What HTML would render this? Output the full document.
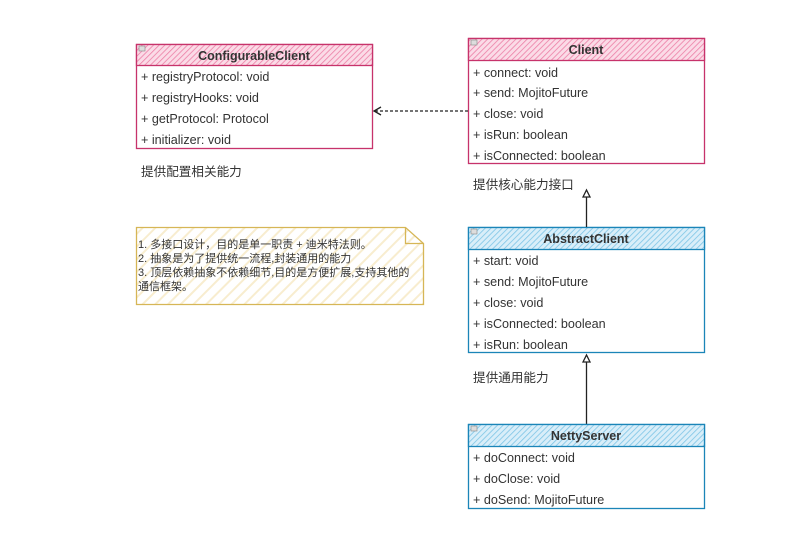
<!DOCTYPE html>
<html><head><meta charset="utf-8"><style>
html,body{margin:0;padding:0;background:#fff;width:799px;height:545px;overflow:hidden}
svg text{font-family:"Liberation Sans","Noto Sans CJK SC",sans-serif}
</style></head><body>
<svg width="799" height="545" viewBox="0 0 799 545" xmlns="http://www.w3.org/2000/svg">
<defs>
<pattern id="hp" width="4" height="4" patternUnits="userSpaceOnUse" patternTransform="rotate(45)">
<rect width="4" height="4" fill="#fbdbe7"/><line x1="0" y1="0" x2="0" y2="4" stroke="#ec7fa6" stroke-width="1.6"/></pattern>
<pattern id="hb" width="4" height="4" patternUnits="userSpaceOnUse" patternTransform="rotate(45)">
<rect width="4" height="4" fill="#d9eef9"/><line x1="0" y1="0" x2="0" y2="4" stroke="#7dc4e6" stroke-width="1.6"/></pattern>
<pattern id="hy" width="9" height="9" patternUnits="userSpaceOnUse" patternTransform="rotate(45)">
<rect width="9" height="9" fill="#fff"/><line x1="0" y1="0" x2="0" y2="9" stroke="#f8edcf" stroke-width="4"/></pattern>
</defs>

<!-- ConfigurableClient -->
<rect x="136.5" y="44.5" width="236" height="104" fill="#fff" stroke="#c7336b" stroke-width="1.3"/>
<rect x="136.5" y="44.5" width="236" height="21" fill="url(#hp)" stroke="#c7336b" stroke-width="1.3"/>
<rect x="139" y="46" width="6" height="5" fill="#ddd" stroke="#888" stroke-width="0.6"/>
<text x="254" y="60" text-anchor="middle" font-size="12.5" font-weight="bold" fill="#333">ConfigurableClient</text>
<g font-size="12.6" fill="#333">
<text x="141" y="81">+ registryProtocol: void</text>
<text x="141" y="102">+ registryHooks: void</text>
<text x="141" y="123">+ getProtocol: Protocol</text>
<text x="141" y="144">+ initializer: void</text>
</g>
<text x="141" y="176" font-size="12.6" fill="#333">提供配置相关能力</text>

<!-- Client -->
<rect x="468.5" y="38.5" width="236" height="125" fill="#fff" stroke="#c7336b" stroke-width="1.3"/>
<rect x="468.5" y="38.5" width="236" height="22" fill="url(#hp)" stroke="#c7336b" stroke-width="1.3"/>
<rect x="471" y="40" width="6" height="5" fill="#ddd" stroke="#888" stroke-width="0.6"/>
<text x="586" y="54" text-anchor="middle" font-size="12.5" font-weight="bold" fill="#333">Client</text>
<g font-size="12.6" fill="#333">
<text x="473" y="77">+ connect: void</text>
<text x="473" y="97">+ send: MojitoFuture</text>
<text x="473" y="118">+ close: void</text>
<text x="473" y="139">+ isRun: boolean</text>
<text x="473" y="160">+ isConnected: boolean</text>
</g>
<text x="473" y="189" font-size="12.6" fill="#333">提供核心能力接口</text>

<!-- dashed arrow -->
<line x1="468" y1="111" x2="375" y2="111" stroke="#222" stroke-width="1.3" stroke-dasharray="3,2"/>
<path d="M381 107 L374 111 L381 115" fill="none" stroke="#222" stroke-width="1.3"/>

<!-- Note -->
<path d="M136.5 227.5 H405.5 L423.5 243.5 V304.5 H136.5 Z" fill="url(#hy)" stroke="#d6b656" stroke-width="1.3"/>
<path d="M405.5 227.5 V243.5 H423.5" fill="none" stroke="#d6b656" stroke-width="1.3"/>
<g font-size="11" fill="#333">
<text x="138" y="248">1. 多接口设计，目的是单一职责 + 迪米特法则。</text>
<text x="138" y="262">2. 抽象是为了提供统一流程,封装通用的能力</text>
<text x="138" y="276">3. 顶层依赖抽象不依赖细节,目的是方便扩展,支持其他的</text>
<text x="138" y="290">通信框架。</text>
</g>

<!-- AbstractClient -->
<rect x="468.5" y="227.5" width="236" height="125" fill="#fff" stroke="#1b85b8" stroke-width="1.3"/>
<rect x="468.5" y="227.5" width="236" height="22" fill="url(#hb)" stroke="#1b85b8" stroke-width="1.3"/>
<rect x="471" y="229" width="6" height="5" fill="#ddd" stroke="#888" stroke-width="0.6"/>
<text x="586" y="243" text-anchor="middle" font-size="12.5" font-weight="bold" fill="#333">AbstractClient</text>
<g font-size="12.6" fill="#333">
<text x="473" y="265">+ start: void</text>
<text x="473" y="286">+ send: MojitoFuture</text>
<text x="473" y="307">+ close: void</text>
<text x="473" y="328">+ isConnected: boolean</text>
<text x="473" y="349">+ isRun: boolean</text>
</g>
<text x="473" y="382" font-size="12.6" fill="#333">提供通用能力</text>

<!-- arrows -->
<line x1="586.5" y1="227" x2="586.5" y2="192" stroke="#222" stroke-width="1.3"/>
<path d="M583 197 L586.5 190 L590 197 Z" fill="#fff" stroke="#222" stroke-width="1.3"/>
<line x1="586.5" y1="424" x2="586.5" y2="357" stroke="#222" stroke-width="1.3"/>
<path d="M583 362 L586.5 355 L590 362 Z" fill="#fff" stroke="#222" stroke-width="1.3"/>

<!-- NettyServer -->
<rect x="468.5" y="424.5" width="236" height="84" fill="#fff" stroke="#1b85b8" stroke-width="1.3"/>
<rect x="468.5" y="424.5" width="236" height="22" fill="url(#hb)" stroke="#1b85b8" stroke-width="1.3"/>
<rect x="471" y="426" width="6" height="5" fill="#ddd" stroke="#888" stroke-width="0.6"/>
<text x="586" y="440" text-anchor="middle" font-size="12.5" font-weight="bold" fill="#333">NettyServer</text>
<g font-size="12.6" fill="#333">
<text x="473" y="462">+ doConnect: void</text>
<text x="473" y="483">+ doClose: void</text>
<text x="473" y="504">+ doSend: MojitoFuture</text>
</g>
</svg>
</body></html>
